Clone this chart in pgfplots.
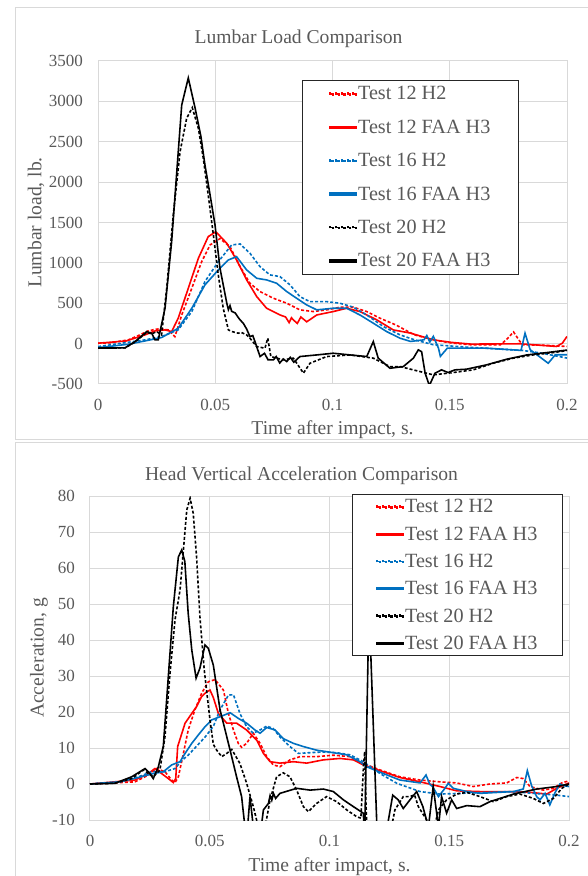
\documentclass[border=0pt]{standalone}
\usepackage{fontspec}
\setmainfont{Liberation Serif}
\usepackage{pgfplots}
\pgfplotsset{compat=1.18}

\definecolor{xred}{HTML}{FF0000}
\definecolor{xblue}{HTML}{0070C0}
\definecolor{gridc}{HTML}{D9D9D9}
\definecolor{txt}{HTML}{595959}

\newcommand\lbl{\fontsize{19.6}{22}\selectfont}
\newcommand\lgd{\fontsize{20.2}{22}\selectfont}
\newcommand\tck{\fontsize{17}{19}\selectfont}

\pgfplotsset{
  xlchart/.style={
    scale only axis,
    xmin=0, xmax=0.2,
    xtick={0,0.05,0.1,0.15,0.2},
    xticklabels={0,0.05,0.1,0.15,0.2},
    axis line style={gridc, line width=1pt},
    grid=major,
    major grid style={gridc, line width=1pt},
    major tick length=0pt,
    tick style={draw=none},
    ticklabel style={font=\tck, text=txt},
    xticklabel style={anchor=center, yshift=-21pt},
    yticklabel style={anchor=east, inner sep=0pt, xshift=-15pt},
    label style={font=\lbl, text=txt},
    legend cell align=left,
  },
  % legend samples as filled bars, so they keep their colour
  dsh/.style={#1, line width=1.6pt, dash pattern=on 3pt off 2pt,
    legend image code/.code={\foreach \i in {0,5.75,11.5,17.25,23}
      {\fill[#1] (\i pt,-0.9pt) rectangle ++(3pt,1.8pt);}}},
  sld/.style={#1, line width=1.6pt,
    legend image code/.code={\fill[#1] (0pt,-0.9pt) rectangle (26pt,0.9pt);}},
}

\begin{document}
\begin{tikzpicture}
\useasboundingbox (0,0) rectangle (587pt,876pt);
\draw[gridc, line width=1pt] (15pt,436pt) rectangle (610pt,868pt);
\draw[gridc, line width=1pt] (15pt,-10pt) rectangle (610pt,433pt);

% ---------- lumbar load ----------
\begin{axis}[xlchart,
  at={(98pt,492pt)}, anchor=south west,
  width=469pt, height=323pt,
  ymin=-500, ymax=3500,
  ytick={-500,0,500,1000,1500,2000,2500,3000,3500},
  yticklabels={-500,0,500,1000,1500,2000,2500,3000,3500},
  xlabel={Time after impact, s.},
  ylabel={Lumbar load, lb.},
  xlabel style={at={(axis description cs:0.5,-0.142)}, anchor=center},
  ylabel style={at={(axis description cs:-0.132,0.5)}, anchor=center},
  legend style={at={(0.435,0.941)}, anchor=north west, draw=black!85,
    line width=0.9pt, fill=white, font=\lgd, text=txt,
    inner xsep=27pt, inner ysep=5pt, row sep=16.5pt,
    nodes={inner sep=1pt}},
]
\addplot[dsh=xred] coordinates {
(0,5) (0.005,10) (0.0129,46) (0.018,110) (0.0213,157) (0.025,180) (0.0271,182)
(0.03,170) (0.0328,87) (0.0357,355) (0.04,686) (0.0442,1015) (0.0478,1222)
(0.052,1300) (0.0563,1201) (0.0606,953) (0.0648,747) (0.0691,644) (0.0748,562)
(0.0805,500) (0.0861,418) (0.0918,397) (0.0975,418) (0.1032,451) (0.1089,451)
(0.1146,397) (0.1203,314) (0.1269,233) (0.1349,109) (0.1429,47) (0.1508,7)
(0.159,-14) (0.1716,-14) (0.173,20) (0.1745,60) (0.1772,145) (0.1796,40)
(0.181,-14) (0.19,-20) (0.2,-35)};
\addlegendentry{Test 12 H2}
\addplot[sld=xred] coordinates {
(0,5) (0.012,33) (0.02,108) (0.0243,157) (0.0286,170) (0.0314,149) (0.0342,314)
(0.0385,686) (0.0428,1057) (0.047,1325) (0.0499,1379) (0.0506,1375) (0.0549,1243)
(0.0591,1036) (0.0634,789) (0.0677,582) (0.0719,438) (0.0776,355) (0.080,330)
(0.0815,260) (0.0825,320) (0.0833,294) (0.085,250) (0.0865,330) (0.089,270)
(0.0933,355) (0.1003,397) (0.106,438) (0.1117,397) (0.1189,294) (0.1259,170)
(0.1333,130) (0.1429,47) (0.1508,15) (0.159,-6) (0.18,-2) (0.1955,-35)
(0.198,5) (0.2,89)};
\addlegendentry{Test 12 FAA H3}
\addplot[dsh=xblue] coordinates {
(0,-37) (0.0129,17) (0.02,46) (0.0271,87) (0.0342,170) (0.04,397) (0.0456,768)
(0.0513,1015) (0.057,1222) (0.0606,1234) (0.0648,1119) (0.0691,953) (0.0733,851)
(0.0776,830) (0.0819,727) (0.0861,582) (0.0904,520) (0.0975,520) (0.1032,500)
(0.1089,451) (0.1146,355) (0.1217,211) (0.1288,108) (0.135,47) (0.143,-14)
(0.157,-43) (0.181,-84) (0.189,-117) (0.2,-179)};
\addlegendentry{Test 16 H2}
\addplot[sld=xblue] coordinates {
(0,-50) (0.0129,-8) (0.02,33) (0.0271,75) (0.0342,190) (0.04,438) (0.0456,727)
(0.0513,912) (0.0556,1036) (0.0591,1077) (0.0634,912) (0.0677,809) (0.0719,789)
(0.0762,747) (0.0805,644) (0.0847,562) (0.089,479) (0.0933,418) (0.1003,438)
(0.106,438) (0.1117,355) (0.1174,253) (0.1231,149) (0.1288,67) (0.1333,27)
(0.139,47) (0.1402,100) (0.1415,20) (0.143,90) (0.1452,-57) (0.146,-158)
(0.149,-55) (0.165,-55) (0.1804,-84) (0.1821,129) (0.1843,-76) (0.192,-243)
(0.195,-138) (0.2,-138)};
\addlegendentry{Test 16 FAA H3}
\addplot[dsh=black] coordinates {
(0,-55) (0.0115,-53) (0.0158,20) (0.0208,140) (0.0229,120) (0.025,149) (0.0271,108)
(0.0293,686) (0.0321,1593) (0.035,2377) (0.0378,2790) (0.0402,2922) (0.0428,2667)
(0.0449,2295) (0.047,1841) (0.0492,1346) (0.0513,851) (0.0534,438) (0.0556,170)
(0.057,150) (0.0598,129) (0.061,140) (0.0634,108) (0.065,60) (0.0677,-37)
(0.0712,-57) (0.0724,67) (0.0737,-160)
(0.079,-201) (0.0833,-180) (0.0876,-366) (0.0904,-243) (0.0975,-160) (0.1075,-140)
(0.1174,-180) (0.1245,-284) (0.1288,-284) (0.1373,-346) (0.143,-387) (0.1515,-358)
(0.16,-325) (0.1686,-242) (0.1771,-180) (0.1856,-140) (0.1942,-111) (0.2,-86)};
\addlegendentry{Test 20 H2}
\addplot[sld=black] coordinates {
(0,-55) (0.0115,-53) (0.0158,25) (0.0208,149) (0.0229,128) (0.0243,46) (0.0257,46)
(0.0286,442) (0.0314,1263) (0.0336,2130) (0.0357,2955) (0.0385,3290) (0.0414,2918)
(0.0439,2563) (0.0456,2213) (0.0478,1841) (0.0499,1470) (0.052,937) (0.0549,504)
(0.0556,420) (0.0563,470) (0.057,400) (0.0585,380) (0.0599,320) (0.0606,294)
(0.062,250) (0.0634,180) (0.0648,87) (0.066,100) (0.067,20) (0.0691,-160)
(0.071,-120) (0.0725,-200) (0.0748,-201) (0.076,-160) (0.0775,-240) (0.079,-190)
(0.0805,-222) (0.082,-170) (0.0835,-230)
(0.0861,-160) (0.0933,-140) (0.1003,-119) (0.1075,-140) (0.1146,-160) (0.1174,25)
(0.1195,-180) (0.1245,-305) (0.1302,-284) (0.1345,-180) (0.1366,-77) (0.138,-100)
(0.1395,-366) (0.1413,-520) (0.1437,-366) (0.1465,-325) (0.1493,-358) (0.1522,-325)
(0.1571,-317) (0.1657,-263) (0.1743,-193) (0.1829,-140) (0.1914,-111) (0.2,-80)};
\addlegendentry{Test 20 FAA H3}
\end{axis}

% ---------- head acceleration ----------
\begin{axis}[xlchart,
  at={(90pt,56pt)}, anchor=south west,
  width=479pt, height=324pt,
  ymin=-10, ymax=80,
  ytick={-10,0,10,20,30,40,50,60,70,80},
  yticklabels={-10,0,10,20,30,40,50,60,70,80},
  xlabel={Time after impact, s.},
  ylabel={Acceleration, g},
  xlabel style={at={(axis description cs:0.5,-0.145)}, anchor=center},
  ylabel style={at={(axis description cs:-0.1065,0.5)}, anchor=center},
  legend style={at={(0.547,1.006)}, anchor=north west, draw=black!85,
    line width=0.9pt, fill=white, font=\lgd, text=txt,
    inner xsep=24pt, inner ysep=4pt, row sep=10.4pt,
    nodes={inner sep=1pt}},
]
\addplot[dsh=xred] coordinates {
(0,0) (0.0188,0.6) (0.0244,2.5) (0.0278,4.3) (0.0313,3.4) (0.0341,1.1) (0.0355,0.4)
(0.0369,2) (0.039,8.5) (0.041,15) (0.0438,20.6) (0.0466,25.2) (0.0494,28.4)
(0.0522,29) (0.0557,26.1) (0.0578,19.6) (0.0599,15) (0.0619,11.3) (0.0633,10.2)
(0.0654,11.3) (0.0682,14.1) (0.071,11.3) (0.0738,7.6) (0.0765,5.3) (0.0793,4.8)
(0.0835,6.7) (0.0877,7.6) (0.0946,7.6) (0.1016,8.0) (0.1086,7.6) (0.1141,5.7)
(0.1211,3.9) (0.1294,2) (0.1378,1.1) (0.1461,0.6) (0.153,0.3) (0.16,-0.7)
(0.167,0) (0.174,0.3) (0.1782,1.8) (0.1809,1.5) (0.1837,-0.7) (0.1893,-1.7)
(0.1935,-1.2) (0.197,0.3) (0.2,0.9)};
\addlegendentry{Test 12 H2}
\addplot[sld=xred] coordinates {
(0,0) (0.0188,1.1) (0.0244,2.9) (0.0271,4.3) (0.0299,2.9) (0.0327,1.5) (0.0348,0.4)
(0.0358,1.5) (0.0366,10.4) (0.0397,16.9) (0.0425,19.6) (0.0445,21.5) (0.0466,24.3)
(0.0487,25.6) (0.0501,26.1) (0.0515,24) (0.0536,19.6) (0.0571,16.9) (0.0612,16.9)
(0.0654,15) (0.0696,12.2) (0.0724,8.5) (0.0752,6.2) (0.0793,5.8) (0.0849,6.2)
(0.0905,5.8) (0.0974,6.7) (0.1044,7.1) (0.11,6.7) (0.1141,5.3) (0.1211,3.7)
(0.1294,1.8) (0.1378,0.6) (0.1461,-0.7) (0.1531,-1.9) (0.1628,-2.1) (0.174,-2.1)
(0.1837,-2.3) (0.1907,-2.8) (0.1949,-1.2) (0.2,0.3)};
\addlegendentry{Test 12 FAA H3}
\addplot[dsh=xblue] coordinates {
(0,0) (0.0125,0.6) (0.0202,2) (0.0257,3.4) (0.0313,3.4) (0.0355,4.3) (0.0383,6.5)
(0.041,8) (0.0438,10) (0.0466,12) (0.048,13) (0.0515,16) (0.0543,20.6)
(0.0578,24.7) (0.0599,24.8) (0.0626,19.6) (0.0654,15.9) (0.0682,14.1) (0.071,15)
(0.0738,16.1) (0.0765,15.4) (0.0793,13.1) (0.0835,10.4) (0.087,8.5) (0.0919,8.7)
(0.0974,8.9) (0.103,8.7) (0.1086,8.1) (0.1141,6.2) (0.1211,2.9) (0.1281,0.2)
(0.1378,-2.1) (0.1461,-2.8) (0.167,-2.3) (0.176,-2.1) (0.1851,-2.6) (0.1935,-3)
(0.2,-3.5)};
\addlegendentry{Test 16 H2}
\addplot[sld=xblue] coordinates {
(0,0) (0.0125,0.6) (0.0202,1.8) (0.0257,2.8) (0.0306,3.4) (0.0341,5.3) (0.0376,6.2)
(0.0397,8.5) (0.0425,11.3) (0.0452,13.6) (0.048,15.9) (0.0508,17.8) (0.0543,18.7)
(0.0585,19.8) (0.062,18.2) (0.0654,16.9) (0.0689,15) (0.071,14.1) (0.0738,15.7)
(0.0773,15) (0.0807,12.6) (0.0849,11.3) (0.0891,10.4) (0.0946,9.4) (0.1016,8.7)
(0.1072,8.1) (0.1127,6.2) (0.1155,4.8) (0.1225,2.9) (0.1294,1.1) (0.1378,0.3)
(0.1403,2.5) (0.1419,-0.1) (0.143,-0.7) (0.1455,-3.5) (0.1482,-1.2) (0.1496,0.2)
(0.1517,-1.2) (0.1573,-2.1) (0.1628,-2.6) (0.1768,-2.1) (0.1809,-1.4) (0.1826,3.7)
(0.1844,-0.5) (0.1865,-3.5) (0.1879,-4.4) (0.19,-2.6) (0.192,-5.8) (0.1941,-2.5)
(0.1962,0) (0.198,-0.5) (0.2,-0.7)};
\addlegendentry{Test 16 FAA H3}
\addplot[dsh=black] coordinates {
(0,0) (0.0104,0.2) (0.0174,1.5) (0.0223,3.9) (0.0264,2) (0.0292,3.9) (0.0313,13.1)
(0.0334,30.7) (0.0355,45.6) (0.0376,53.9) (0.039,65) (0.0404,76.1) (0.0418,79.4)
(0.0431,75.2) (0.0445,63.1) (0.0459,46.4) (0.0477,31.7) (0.0501,17.8) (0.0515,11)
(0.0529,9.4) (0.055,7.6) (0.0571,8.5) (0.0592,9.6) (0.0626,5.7) (0.0654,0.2)
(0.0682,-6.3) (0.0703,-12) (0.0731,-12) (0.0752,-4.4) (0.0779,2) (0.0807,3.1)
(0.0835,2) (0.0863,-1.7) (0.0891,-6.3) (0.0912,-7.7) (0.0946,-5.4) (0.0988,-3.5)
(0.103,-4.9) (0.1072,-7.2) (0.1114,-9.1) (0.1131,-9.5) (0.1142,5) (0.1147,9)
(0.1152,-5) (0.1158,-15) (0.125,-15) (0.1273,-7.2) (0.1308,-3.5) (0.1336,-3.5)
(0.1355,-3) (0.1371,-6.3) (0.1406,-10) (0.1425,-12) (0.1445,-10) (0.1455,-7.2)
(0.1489,-4.4) (0.1531,-2.8) (0.1573,-2.3) (0.1628,-3.5) (0.1684,-4.9) (0.174,-3.5)
(0.1795,-2.8) (0.1851,-4) (0.1893,-5.4) (0.1935,-4) (0.197,-1.2) (0.2,0)};
\addlegendentry{Test 20 H2}
\addplot[sld=black] coordinates {
(0,0) (0.0104,0.2) (0.0174,2) (0.023,4.3) (0.025,2.9) (0.0264,1.5) (0.0285,4.7)
(0.0306,10.4) (0.0327,29.8) (0.0348,49.3) (0.0369,63.1) (0.0383,65) (0.0396,61.8)
(0.041,47.4) (0.0425,37.2) (0.0443,29.4) (0.0459,32.2) (0.048,38.6) (0.0494,37.7)
(0.0515,33) (0.0543,20.6) (0.0585,9.4) (0.0612,2) (0.0633,-3.5) (0.0647,-12)
(0.0658,-12) (0.0668,-3.5) (0.0682,-12) (0.0715,-12) (0.0724,-7.2) (0.0745,-5.4)
(0.0752,-3.2) (0.0759,-4.5) (0.0766,-2.6) (0.0775,-4) (0.0793,-2.6) (0.0863,-1.2)
(0.0919,-1.7) (0.0974,-1.4) (0.1016,-2.1)
(0.1058,-4.4) (0.11,-6.3) (0.1141,-8.1) (0.1147,-14) (0.1165,50) (0.1199,-14)
(0.1235,-15) (0.1246,-10) (0.1264,-3.1) (0.1287,-4.4) (0.1308,-6.8) (0.1336,-4.4)
(0.1364,-2.1) (0.139,-6.3) (0.1413,-12) (0.1433,-0.7) (0.1455,-12) (0.1468,-3.5)
(0.1489,-8.1) (0.151,-4.4) (0.1531,-6.8) (0.1573,-6) (0.1628,-6.3) (0.167,-4.9)
(0.1768,-2.8) (0.1865,-1.4) (0.1949,-0.7) (0.2,0)};
\addlegendentry{Test 20 FAA H3}
\end{axis}

\node[font=\lbl, text=txt] at (298.5pt,837pt) {Lumbar Load Comparison};
\node[font=\lbl, text=txt] at (301.5pt,400pt) {Head Vertical Acceleration Comparison};
\end{tikzpicture}
\end{document}
